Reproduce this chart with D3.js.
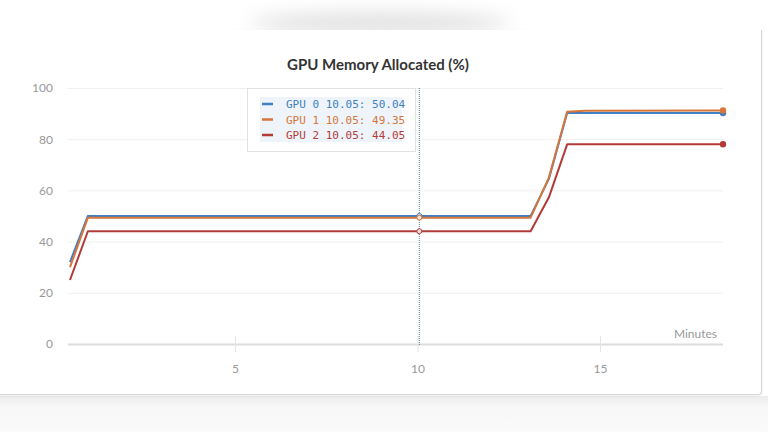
<!DOCTYPE html>
<html>
<head>
<meta charset="utf-8">
<script src="https://cdn.jsdelivr.net/npm/d3@7"></script>
<style>
  html, body { margin: 0; padding: 0; background: #fff; }
  body { width: 768px; height: 432px; overflow: hidden; position: relative;
         font-family: "Lato", "Open Sans", sans-serif; }
  .bottom-bg { position: absolute; left: 0; top: 396px; width: 768px; height: 36px;
               background: linear-gradient(#ececec, #f7f7f7 30%, #fafafa); }
  .top-shadow { position: absolute; left: 250px; top: 12px; width: 260px; height: 22px;
                border-radius: 50%; background: #e2e2e2; filter: blur(9px); }
  .card { position: absolute; left: -4px; top: 30px; width: 765px; height: 364px;
          background: #fff; border-right: 1px solid #d6d6d6; border-bottom: 1px solid #d6d6d6;
          border-radius: 0 0 4px 0; box-shadow: 0 1px 3px rgba(0,0,0,0.08); }
  svg { position: absolute; left: 0; top: 0; }
</style>
</head>
<body>
<div class="bottom-bg"></div>
<div class="top-shadow"></div>
<div class="card"></div>
<script>
const minutes = [0.48, 0.97, 10.05, 13.1, 13.6, 14.1, 14.6, 18.37]
const gpu0 = [32, 50.04, 50.04, 50.04, 64.5, 90.2, 90.2, 90.2]
const gpu1 = [30, 49.35, 49.35, 49.35, 65, 90.7, 91.1, 91.2]
const gpu2 = [25, 44.05, 44.05, 44.05, 57.3, 78, 78, 78]
const seriesNames = ["GPU 0", "GPU 1", "GPU 2"]
const seriesColors = ["#3f7fc2", "#d6763a", "#b23b38"]
const yTicks = [0, 20, 40, 60, 80, 100]
const xTicks = [5, 10, 15]
const hoverMinute = 10.05

const w = 768
const h = 432
const series = [gpu0, gpu1, gpu2]

const xScale = d3.scaleLinear()
                 .domain([minutes[0], minutes[minutes.length - 1]])
                 .range([70, 723])
const yScale = d3.scaleLinear()
                 .domain([0, 100])
                 .range([344, 88])

const svg = d3.select("body")
              .append("svg")
              .attr("width", w)
              .attr("height", h)

svg.append("text")
   .attr("x", 378)
   .attr("y", 70)
   .attr("text-anchor", "middle")
   .style("font-size", "15px")
   .style("font-weight", "bold")
   .style("fill", "#333")
   .text("GPU Memory Allocated (%)")

// y grid + labels
const yAxis = d3.axisLeft(yScale)
                .tickValues(yTicks)
                .tickSize(-(723 - 68))
                .tickPadding(15)
svg.append("g")
   .attr("id", "y-axis")
   .attr("transform", "translate(68, 0)")
   .call(yAxis)
   .call(g => g.select(".domain").remove())
   .call(g => g.selectAll(".tick line")
               .attr("stroke", (d) => d === 0 ? "#dcdcdc" : "#efefef")
               .attr("stroke-width", (d) => d === 0 ? 2 : 1))
   .call(g => g.selectAll(".tick text")
               .style("fill", "#999")
               .style("font-size", "12px")
               .style("font-family", "Lato, sans-serif"))

// x ticks
const xAxis = d3.axisBottom(xScale)
                .tickValues(xTicks)
                .tickSize(8)
                .tickPadding(12)
svg.append("g")
   .attr("id", "x-axis")
   .attr("transform", "translate(0, 344)")
   .call(xAxis)
   .call(g => g.select(".domain").remove())
   .call(g => g.selectAll(".tick line")
               .attr("y1", -8)
               .attr("stroke", "#e4e4e4"))
   .call(g => g.selectAll(".tick text")
               .style("fill", "#999")
               .style("font-size", "12px")
               .style("font-family", "Lato, sans-serif"))

svg.append("text")
   .attr("x", 717)
   .attr("y", 338)
   .attr("text-anchor", "end")
   .style("font-size", "12px")
   .style("fill", "#999")
   .text("Minutes")

// hover line
svg.append("line")
   .attr("x1", xScale(hoverMinute))
   .attr("x2", xScale(hoverMinute))
   .attr("y1", yScale(100))
   .attr("y2", yScale(0) + 2)
   .attr("stroke", "#4a7fb5")
   .attr("stroke-width", 1)
   .attr("stroke-dasharray", "1,1")

const line = d3.line()
               .x((d, i) => xScale(minutes[i]))
               .y((d) => yScale(d))

// draw red, then blue, then orange so orange sits on top as in the picture
const order = [2, 0, 1]
order.forEach((k) => {
    svg.append("path")
       .datum(series[k])
       .attr("fill", "none")
       .attr("stroke", seriesColors[k])
       .attr("stroke-width", 2)
       .attr("stroke-linejoin", "round")
       .attr("d", line)
})

order.forEach((k) => {
    const vals = series[k]
    svg.append("circle")
       .attr("cx", xScale(minutes[minutes.length - 1]))
       .attr("cy", yScale(vals[vals.length - 1]))
       .attr("r", 3.2)
       .attr("fill", seriesColors[k])
    svg.append("circle")
       .attr("cx", xScale(hoverMinute))
       .attr("cy", yScale(vals[minutes.indexOf(hoverMinute)]))
       .attr("r", 2.5)
       .attr("fill", "#f3e3dc")
       .attr("stroke", seriesColors[k])
       .attr("stroke-width", 1)
})

// legend box
const legend = svg.append("g")
legend.append("rect")
      .attr("x", 247.5)
      .attr("y", 88.5)
      .attr("width", 168)
      .attr("height", 63)
      .attr("fill", "#fff")
      .attr("stroke", "#e2e2e2")
legend.append("rect")
      .attr("x", 260)
      .attr("y", 97)
      .attr("width", 142)
      .attr("height", 45)
      .attr("fill", "#eef4fa")

seriesNames.forEach((name, k) => {
    const y = 104 + k * 15.5
    legend.append("line")
          .attr("x1", 262)
          .attr("x2", 273)
          .attr("y1", y)
          .attr("y2", y)
          .attr("stroke", seriesColors[k])
          .attr("stroke-width", 2.5)
    legend.append("text")
          .attr("x", 286)
          .attr("y", y + 4)
          .style("font-family", "'DejaVu Sans Mono', monospace")
          .style("font-size", "11px")
          .style("fill", seriesColors[k])
          .text(name + " " + hoverMinute.toFixed(2) + ": " + series[k][minutes.indexOf(hoverMinute)].toFixed(2))
})
</script>
</body>
</html>
